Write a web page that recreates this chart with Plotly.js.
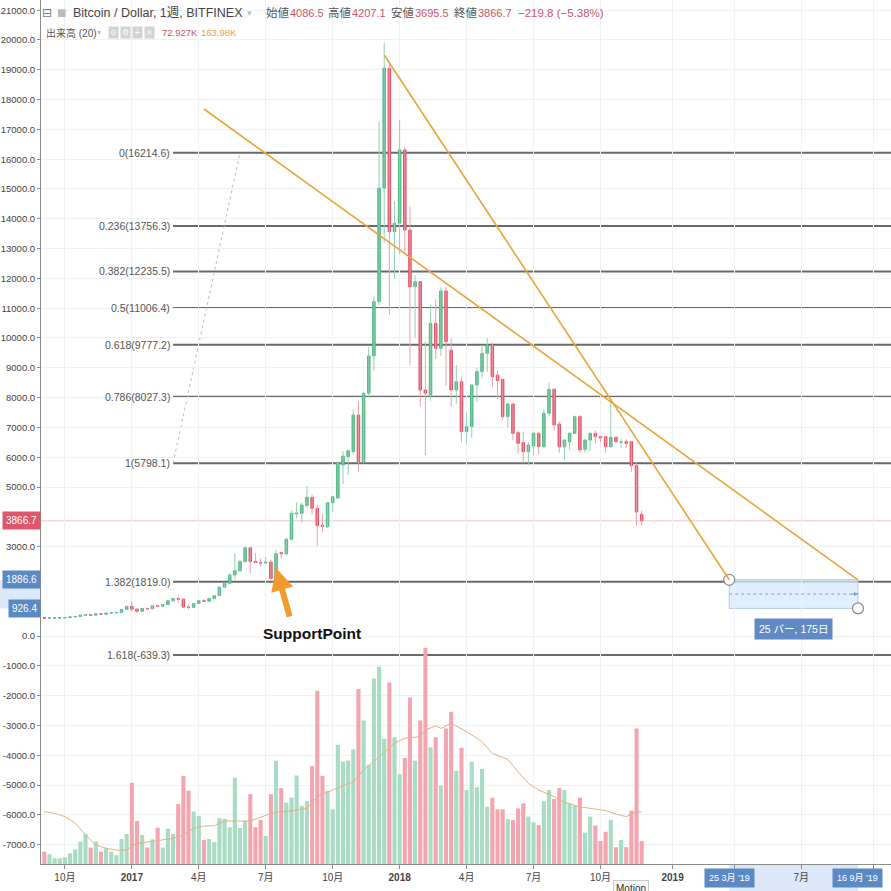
<!DOCTYPE html>
<html><head><meta charset="utf-8">
<script src="https://cdn.plot.ly/plotly-3.0.1.min.js"></script>
<style>html,body{margin:0;padding:0;background:#fff}#chart{width:891px;height:891px}</style>
</head><body><div id="chart"></div>
<script>
// ---- weekly bars (Monday start) ----
const dates = [
'2016-09-05','2016-09-12','2016-09-19','2016-09-26','2016-10-03','2016-10-10','2016-10-17','2016-10-24','2016-10-31','2016-11-07','2016-11-14','2016-11-21','2016-11-28','2016-12-05','2016-12-12','2016-12-19','2016-12-26',
'2017-01-02','2017-01-09','2017-01-16','2017-01-23','2017-01-30','2017-02-06','2017-02-13','2017-02-20','2017-02-27','2017-03-06','2017-03-13','2017-03-20','2017-03-27','2017-04-03','2017-04-10','2017-04-17','2017-04-24','2017-05-01','2017-05-08','2017-05-15','2017-05-22','2017-05-29','2017-06-05','2017-06-12','2017-06-19','2017-06-26','2017-07-03','2017-07-10','2017-07-17','2017-07-24','2017-07-31','2017-08-07','2017-08-14','2017-08-21','2017-08-28','2017-09-04','2017-09-11','2017-09-18','2017-09-25','2017-10-02','2017-10-09','2017-10-16','2017-10-23','2017-10-30','2017-11-06','2017-11-13','2017-11-20','2017-11-27','2017-12-04','2017-12-11','2017-12-18','2017-12-25',
'2018-01-01','2018-01-08','2018-01-15','2018-01-22','2018-01-29','2018-02-05','2018-02-12','2018-02-19','2018-02-26','2018-03-05','2018-03-12','2018-03-19','2018-03-26','2018-04-02','2018-04-09','2018-04-16','2018-04-23','2018-04-30','2018-05-07','2018-05-14','2018-05-21','2018-05-28','2018-06-04','2018-06-11','2018-06-18','2018-06-25','2018-07-02','2018-07-09','2018-07-16','2018-07-23','2018-07-30','2018-08-06','2018-08-13','2018-08-20','2018-08-27','2018-09-03','2018-09-10','2018-09-17','2018-09-24','2018-10-01','2018-10-08','2018-10-15','2018-10-22','2018-10-29','2018-11-05','2018-11-12','2018-11-19','2018-11-26'];

const open = [612,603,600,603,610,618,640,655,700,710,700,742,730,768,778,792,893,
995,905,830,925,915,1012,1000,1055,1182,1255,1235,970,960,1090,1185,1170,1255,1360,1640,1765,2050,2190,2500,2960,2500,2470,2450,2480,1930,2800,2760,3245,4100,4117,4380,4654,4285,3720,3668,4473,4630,5738,6017,6185,7416,5850,8144,9400,11218,15030,19050,13568,
13850,16309,13624,11722,11890,8255,8087,10492,9653,11577,9597,8255,8535,6857,7025,8423,8870,9485,9732,8758,8613,7360,7785,6823,6488,6185,6376,6801,6353,7472,8277,7114,6353,6521,6801,7360,6264,6577,6801,6689,6689,6353,6667,6500,6521,6521,5716,4086.5];
const high = [618,612,612,612,622,645,660,705,745,725,750,755,775,785,795,900,1000,
1160,920,930,935,1020,1045,1065,1195,1275,1330,1265,1065,1105,1210,1230,1270,1380,1660,1800,2100,2780,2560,3000,2990,2780,2600,2650,2560,2900,2830,3300,4200,4480,4460,5030,4750,4400,4100,4480,4700,5850,6200,6250,7600,7880,8200,9700,11400,17258,19900,19200,14600,
17315,16420,14406,12100,11900,9876,11100,11300,11700,11700,9980,9100,8700,7500,8450,9000,9760,10000,9850,8900,8630,7800,7800,6900,6850,6500,6850,6850,7600,8500,8300,7200,6600,6850,7400,7420,6600,6850,6900,6700,6700,7919,6700,6600,6600,6550,5800,4207.1];
const low = [598,600,595,598,606,614,628,650,690,690,695,722,725,755,770,785,880,
820,760,815,880,910,960,995,1050,1160,1100,955,890,935,1080,1160,1165,1240,1350,1610,1750,1900,2150,2450,2110,2450,2330,2420,1840,1880,2600,2700,3200,3950,3800,4300,4100,3020,3480,3620,4150,4600,5100,5400,6100,5500,5800,8000,8900,11100,13200,10772,12000,
12800,12900,9100,10000,7700,6074,7900,9300,9400,8400,7700,7800,6500,6450,6650,7850,8650,8850,8350,7950,7250,7000,6580,6120,5800,5750,6050,6100,6300,7380,6900,6150,5900,6250,6800,6150,6150,6200,6450,6500,6150,6300,6450,6300,6300,5500,3700,3695.5];
const close = [603,609,607,610,618,640,655,700,710,700,742,730,768,778,792,893,995,
905,830,925,915,1012,1000,1055,1182,1255,1235,970,960,1090,1185,1170,1255,1360,1640,1765,2050,2190,2500,2960,2500,2470,2450,2480,1930,2760,2760,3245,4117,4117,4396,4654,4285,3700,3680,4473,4674,5805,6040,6218,7416,5850,8144,9400,11218,15030,19050,13568,13850,
16309,13624,11720,11890,8255,8150,10492,9653,11577,9877,8255,8535,6857,7025,8423,8870,9485,9732,8702,8568,7360,7785,6801,6466,6185,6409,6801,6353,7472,8277,7081,6353,6577,6801,7360,6242,6577,6801,6689,6650,6353,6667,6521,6510,6466,5716,4161,3866.7];
// volume in thousands (K)
const volume = [39,31,18,18,21,34,46,71,95,52,71,39,50,39,28,79,95,
257,136,92,52,78,115,52,112,95,190,279,232,166,152,76,79,69,145,143,116,273,114,137,221,116,139,89,221,327,240,194,210,280,184,199,310,548,279,232,173,377,324,327,363,554,454,313,587,624,396,574,401,
284,336,527,327,454,684,369,401,248,429,482,295,368,234,324,243,301,181,210,173,173,142,139,176,192,150,132,123,199,234,206,240,234,192,184,210,99,150,122,73,102,139,53,76,53,169,429,72.927];
// volume MA(20) read at selected bars (bar index, K)
const volMaIdx = [0,2,4,6,8,10,12,14,16,17,18,20,23,25,27,29,31,33,35,37,40,42,44,46,48,51,53,56,60,62,65,68,70,73,74,76,77,79,82,85,87,90,92,94,96,99,101,104,106,109,111,113,115,116];
const volMaVal = [166,160,150,129,92,60,50,44,44,57,65,69,76,81,92,113,120,121,136,136,136,148,160,166,168,176,213,234,260,297,340,382,398,403,424,437,429,445,419,387,350,331,292,255,234,213,195,181,176,169,158,150,166,164];

// fibonacci retracement
const fibLevels = [16214.6,13756.3,12235.5,11006.4,9777.2,8027.3,5798.1,1819.0,-639.3];
const fibLabels = ['0(16214.6)','0.236(13756.3)','0.382(12235.5)','0.5(11006.4)','0.618(9777.2)','0.786(8027.3)','1(5798.1)','1.382(1819.0)','1.618(-639.3)'];
const fibStart = '2017-02-27', fibAnchorEnd = '2017-05-29';
// trend lines [x0,y0,x1,y1]
const trendLines = [['2017-04-10',17685,'2019-09-16',1886.6],['2017-12-11',19497,'2019-03-25',1886.6]];
// date range measurement
const rangeBox = {x0:'2019-03-25', x1:'2019-09-16', y0:926.4, y1:1886.6, label:'25 バー, 175日'};
const lastPrice = 3866.7;

const yTickVals = [-7000,-6000,-5000,-4000,-3000,-2000,-1000,0,3000,5000,6000,7000,8000,9000,10000,11000,12000,13000,14000,15000,16000,17000,18000,19000,20000,21000];
const xTickVals = ['2016-10-03','2017-01-02','2017-04-03','2017-07-03','2017-10-02','2018-01-01','2018-04-02','2018-07-02','2018-10-01','2019-01-07','2019-04-01','2019-07-01','2019-10-07'];
const xTickText = ['10月','<b>2017</b>','4月','7月','10月','<b>2018</b>','4月','7月','10月','<b>2019</b>','','7月',''];

const FONT = '"Liberation Sans", Arial, "Noto Sans CJK JP", sans-serif';
const GREEN='#53b987', RED='#e3536a', GWICK='#92d0b2', RWICK='#eca1ab';
const GVOL='#a9dcc4', RVOL='#f3a6b0';

const up = close.map((c,i)=>c>=open[i]);
function wicks(flag){
  const x=[],y=[];
  dates.forEach((d,i)=>{ if(up[i]===flag){ x.push(d,d,null); y.push(low[i],high[i],null);} });
  return {type:'scatter',mode:'lines',x,y,line:{color:flag?GWICK:RWICK,width:1},hoverinfo:'skip',showlegend:false};
}
const bodyHigh = open.map((o,i)=>Math.max(o,close[i]));
const bodyLow = open.map((o,i)=>Math.min(o,close[i]));

const traces = [
  {type:'bar',x:dates,y:volume,yaxis:'y2',marker:{color:up.map(u=>u?GVOL:RVOL),line:{width:0}},hoverinfo:'skip',showlegend:false},
  {type:'scatter',mode:'lines',x:volMaIdx.map(i=>dates[i]),y:volMaVal,yaxis:'y2',line:{color:'#e3b184',width:1},hoverinfo:'skip',showlegend:false},
  wicks(true), wicks(false),
  {type:'candlestick',x:dates,open:open,high:bodyHigh,low:bodyLow,close:close,whiskerwidth:0,
   increasing:{line:{color:GREEN,width:1},fillcolor:GREEN},decreasing:{line:{color:RED,width:1},fillcolor:RED},hoverinfo:'skip',showlegend:false},
  {type:'scatter',mode:'markers',x:[rangeBox.x0,rangeBox.x1],y:[rangeBox.y1,rangeBox.y0],marker:{size:11,color:'#fff',line:{color:'#8a8a8a',width:1.2}},hoverinfo:'skip',showlegend:false}
];

const PL=41, PW=850, PH=864;
const px = x=>(x-PL)/PW, py = y=>1-y/PH;

const shapes = [];
shapes.push({type:'rect',xref:'paper',yref:'y',x0:-PL/PW,x1:0,y0:rangeBox.y0,y1:rangeBox.y1,fillcolor:'#dde9f8',line:{width:0},layer:'below'});
shapes.push({type:'rect',xref:'x',yref:'paper',x0:rangeBox.x0,x1:rangeBox.x1,y0:-27/PH,y1:0,fillcolor:'#dde9f8',line:{width:0},layer:'below'});
shapes.push({type:'line',xref:'paper',yref:'y',x0:0,x1:1,y0:lastPrice,y1:lastPrice,line:{color:'#f3c3ca',width:1},layer:'below'});
fibLevels.forEach(v=>shapes.push({type:'line',xref:'x',yref:'y',x0:fibStart,x1:'2020-06-01',y0:v,y1:v,line:{color:'#6a6a6a',width:2},layer:'below'}));
shapes.push({type:'line',xref:'x',yref:'y',x0:fibStart,y0:fibLevels[6],x1:fibAnchorEnd,y1:fibLevels[0],line:{color:'#bdbdbd',width:1,dash:'dot'},layer:'below'});
shapes.push({type:'rect',xref:'x',yref:'y',x0:rangeBox.x0,x1:rangeBox.x1,y0:rangeBox.y0,y1:rangeBox.y1,fillcolor:'rgba(215,232,252,0.75)',line:{color:'#b4c9e2',width:1},layer:'below'});
shapes.push({type:'line',xref:'x',yref:'y',x0:rangeBox.x0,x1:rangeBox.x1,y0:(rangeBox.y0+rangeBox.y1)/2,y1:(rangeBox.y0+rangeBox.y1)/2,line:{color:'#7f9fcb',width:1,dash:'dot'},layer:'above'});
trendLines.forEach(t=>shapes.push({type:'line',xref:'x',yref:'y',x0:t[0],y0:t[1],x1:t[2],y1:t[3],line:{color:'#e9a53c',width:1.6},layer:'above'}));

const ann = [];
const T = (x,y,text,size,color,anchor,extra)=>ann.push(Object.assign({xref:'paper',yref:'paper',x:px(x),y:py(y),text,showarrow:false,xanchor:anchor||'left',yanchor:'middle',font:{family:FONT,size,color}},extra||{}));
fibLevels.forEach((v,i)=>ann.push({xref:'x',yref:'y',x:fibStart,y:v,xanchor:'right',yanchor:'middle',xshift:-1,text:fibLabels[i],showarrow:false,font:{family:FONT,size:10.5,color:'#555'}}));
// header
T(47,13,'⊟',12,'#777','center',{font:{family:'DejaVu Sans',size:12,color:'#777'}});
T(61,13,'■',10,'#bbb','center',{font:{family:'DejaVu Sans',size:10,color:'#bbb'}});
T(71,13,'Bitcoin / Dollar, 1週, BITFINEX',12.5,'#444','left');
T(249,13,'▾',9,'#bbb','center',{font:{family:'DejaVu Sans',size:9,color:'#bbb'}});
const rc='#c9566b';
T(264,13,'始値',11.5,'#555'); T(288,13,'4086.5',11,rc);
T(326,13,'高値',11.5,'#555'); T(350,13,'4207.1',11,rc);
T(389,13,'安値',11.5,'#555'); T(413,13,'3695.5',11,rc);
T(452,13,'終値',11.5,'#555'); T(476,13,'3866.7',11,rc);
T(516,13,'−219.8 (−5.38%)',11.5,rc);
T(44,33,'出来高 (20)',10,'#555');
T(99,33,'▾',8,'#bbb','center',{font:{family:'DejaVu Sans',size:8,color:'#bbb'}});
['⊙','⚙','+','×'].forEach((s,k)=>T(113+12*k,33,s,8,'#fff','center',{bgcolor:'#d3d3d3',borderpad:1,font:{family:'DejaVu Sans',size:8,color:'#fff'}}));
T(160,33,'72.927K',9.5,rc);
T(199,33,'163.98K',9.5,'#e3a04f');
// y axis badges
ann.push({xref:'paper',yref:'y',x:0,y:lastPrice,xanchor:'right',yanchor:'middle',text:'3866.7',showarrow:false,bgcolor:'#e0566b',borderpad:3,font:{family:FONT,size:10,color:'#fff'}});
ann.push({xref:'paper',yref:'y',x:0,y:rangeBox.y1,xanchor:'right',yanchor:'middle',text:'1886.6',showarrow:false,bgcolor:'#5b89c4',borderpad:3,font:{family:FONT,size:10,color:'#fff'}});
ann.push({xref:'paper',yref:'y',x:0,y:rangeBox.y0,xanchor:'right',yanchor:'middle',text:'926.4',showarrow:false,bgcolor:'#5b89c4',borderpad:3,font:{family:FONT,size:10,color:'#fff'}});
// x axis badges
ann.push({xref:'x',yref:'paper',x:rangeBox.x0,y:-14/PH,xanchor:'center',yanchor:'middle',text:"25 3月 '19",showarrow:false,bgcolor:'#5b89c4',borderpad:4,font:{family:FONT,size:9,color:'#fff'}});
ann.push({xref:'x',yref:'paper',x:rangeBox.x1,y:-14/PH,xanchor:'center',yanchor:'middle',text:"16 9月 '19",showarrow:false,bgcolor:'#5b89c4',borderpad:4,font:{family:FONT,size:9,color:'#fff'}});
// range label
ann.push({xref:'x',yref:'y',x:'2019-06-20',y:235,xanchor:'center',yanchor:'middle',text:rangeBox.label,showarrow:false,bgcolor:'#5f8ac4',borderpad:4,font:{family:FONT,size:10.5,color:'#fff'}});
ann.push({xref:'x',yref:'y',x:rangeBox.x1,y:(rangeBox.y0+rangeBox.y1)/2,ax:-8,ay:0,text:'',showarrow:true,arrowhead:2,arrowsize:0.8,arrowwidth:1,arrowcolor:'#7f9fcb'});
// support point
ann.push({xref:'x',yref:'y',x:'2017-09-04',y:100,xanchor:'center',yanchor:'middle',text:'<b>SupportPoint</b>',showarrow:false,font:{family:FONT,size:15.5,color:'#111'}});
ann.push({xref:'x',yref:'y',x:'2017-07-17',y:2282,ax:14,ay:50,text:'',showarrow:true,arrowhead:2,arrowsize:0.75,arrowwidth:6,arrowcolor:'#f29a2e',standoff:0});
// Motion button (cut at bottom edge, as in the reference)
ann.push({xref:'paper',yref:'paper',x:px(631),y:-16/PH,xanchor:'center',yanchor:'top',text:'Motion',showarrow:false,bgcolor:'#f7f7f7',bordercolor:'#c8c8c8',borderwidth:1,borderpad:2,font:{family:FONT,size:10,color:'#333'}});

const layout = {
  width:891,height:891,margin:{l:PL,r:0,t:0,b:27},
  paper_bgcolor:'#fff',plot_bgcolor:'#fff',
  showlegend:false,bargap:0.2,
  xaxis:{type:'date',range:['2016-08-31 12:00','2019-10-30 21:00'],tickvals:xTickVals,ticktext:xTickText,
    showgrid:true,gridcolor:'#eef1f5',gridwidth:1,showline:true,linecolor:'#8c8c8c',ticks:'outside',ticklen:4,tickcolor:'#8c8c8c',
    tickfont:{family:FONT,size:10,color:'#444'},rangeslider:{visible:false},zeroline:false,fixedrange:true},
  yaxis:{range:[-7651,21342],tickvals:yTickVals,ticktext:yTickVals.map(v=>v.toFixed(1)),showgrid:true,gridcolor:'#eef1f5',
    showline:true,linecolor:'#8c8c8c',ticks:'outside',ticklen:3,tickcolor:'#8c8c8c',zeroline:false,
    tickfont:{family:FONT,size:9.5,color:'#444'},fixedrange:true},
  yaxis2:{overlaying:'y',range:[0,2734],visible:false,showgrid:false,zeroline:false,fixedrange:true},
  shapes:shapes,annotations:ann,hovermode:false
};
Plotly.newPlot('chart',traces,layout,{displayModeBar:false,staticPlot:true});
</script></body></html>
